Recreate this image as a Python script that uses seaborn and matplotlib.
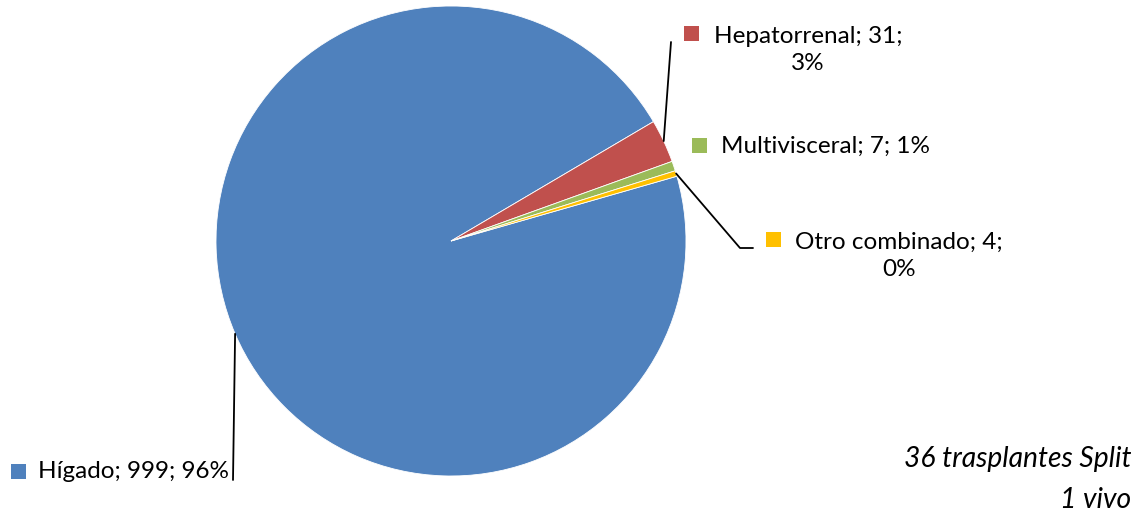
import numpy as np
import matplotlib
matplotlib.use("Agg")
import matplotlib.pyplot as plt
from matplotlib.patches import Rectangle
import seaborn as sns

# ---- data ----
categories = ["Hígado", "Hepatorrenal", "Multivisceral", "Otro combinado"]
values = [999, 31, 7, 4]
colors = ["#4F81BD", "#C0504D", "#9BBB59", "#FFC000"]
note_lines = ["36 trasplantes Split", "1 vivo"]

sns.set_theme(style="white")
plt.rcParams['font.family'] = ['Lato', 'DejaVu Sans']

W, H = 1139, 517
fig = plt.figure(figsize=(W / 100, H / 100), dpi=100)
ax = fig.add_axes([0, 0, 1, 1])

def py(y):
    return H - y

cx, cy, R = 451, py(241), 235
start = 16
wedges, _ = ax.pie(values, colors=colors, startangle=start, counterclock=False,
                   center=(cx, cy), radius=R, frame=True,
                   wedgeprops=dict(edgecolor='white', linewidth=0.6))
ax.set_xlim(0, W)
ax.set_ylim(0, H)
ax.set_aspect('equal')
ax.axis('off')

total = sum(values)
pcts = [int(round(v / total * 100)) for v in values]

def mid_point(w):
    a = np.deg2rad((w.theta1 + w.theta2) / 2)
    return cx + R * np.cos(a), cy + R * np.sin(a)

fs = 17.5
lab_kw = dict(fontsize=fs, color='#000000')

# label layouts: (text, text x, text y, ha, marker x, marker y)
labels = [
    (f"{categories[0]}; {values[0]}; {pcts[0]}%", 38, 471, 'left', 11, 471),
    (f"{categories[1]}; {values[1]};\n{pcts[1]}%", 808, 50, 'center', 684, 33),
    (f"{categories[2]}; {values[2]}; {pcts[2]}%", 721, 146, 'left', 692, 145),
    (f"{categories[3]}; {values[3]};\n{pcts[3]}%", 899, 256, 'center', 766, 239),
]
for (txt, tx, ty, ha, mx, my), c in zip(labels, colors):
    ax.text(tx, py(ty), txt, ha=ha, va='center', multialignment='center',
            linespacing=1.4, **lab_kw)
    ax.add_patch(Rectangle((mx, py(my) - 7.5), 15, 15, facecolor=c, edgecolor='none'))

# leader lines
x0, y0 = mid_point(wedges[0])
ax.plot([x0, 233], [y0, py(480)], color='black', lw=1.3)
x1, y1 = mid_point(wedges[1])
ax.plot([x1, 671], [y1, py(42)], color='black', lw=1.3)
x3, y3 = mid_point(wedges[3])
ax.plot([x3, 740, 753], [y3, py(248), py(248)], color='black', lw=1.3)

# note
note_kw = dict(fontsize=20.3, color='#000000', style='italic', ha='right', va='center')
ax.text(1131, py(459), note_lines[0], **note_kw)
ax.text(1131, py(500), note_lines[1], **note_kw)

fig.savefig("out.png", dpi=100, facecolor='white')
